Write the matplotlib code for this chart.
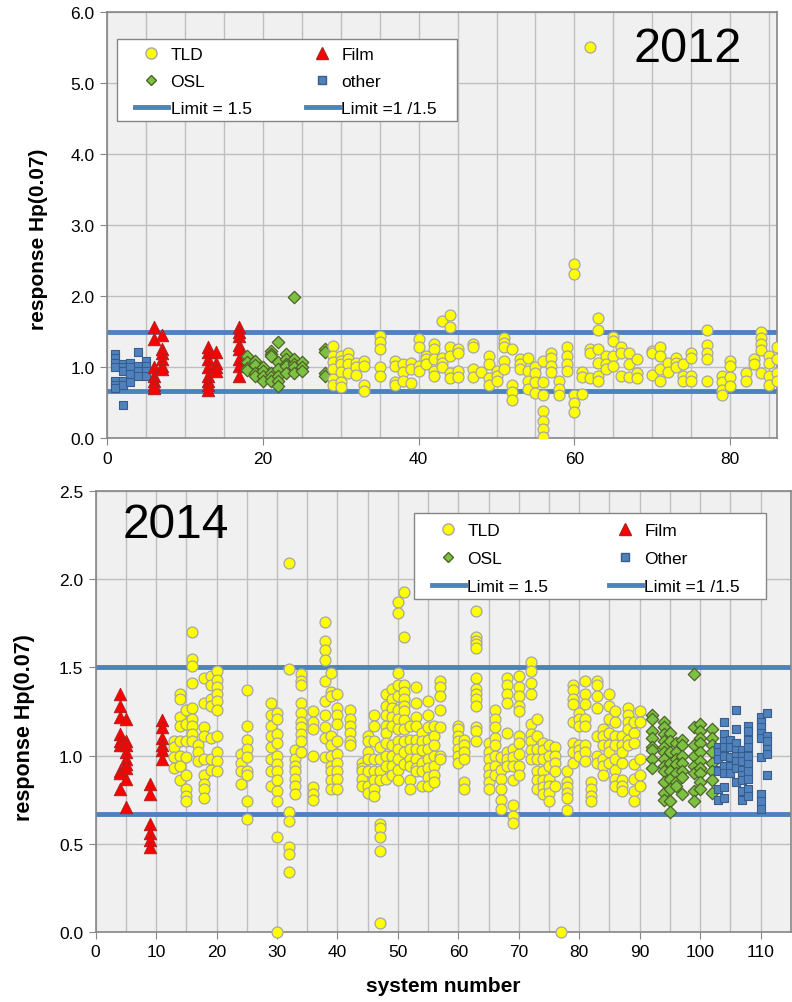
import matplotlib
matplotlib.use('Agg')
import matplotlib.pyplot as plt
from matplotlib.lines import Line2D
from matplotlib.patches import Rectangle
from matplotlib.ticker import MultipleLocator, FormatStrFormatter

plt.rcParams['font.family'] = ['Liberation Sans', 'DejaVu Sans']

# ---------------- 2012 ----------------
other12_sys = [1, 2, 3, 4, 5]
other12_val = [[1.18, 1.12, 1.05, 1.0, 0.81, 0.74, 0.70],
               [1.04, 1.0, 0.95, 0.81, 0.74, 0.46],
               [1.06, 1.0, 0.90, 0.79],
               [1.21, 1.02, 0.95, 0.87],
               [1.08, 1.02, 0.95, 0.88]]

film12_sys = [6, 7, 13, 14, 17]
film12_val = [[1.56, 1.40, 1.0, 0.88, 0.81, 0.74, 0.70],
              [1.45, 1.25, 1.20, 1.11, 1.02, 0.97],
              [1.28, 1.21, 1.11, 1.0, 0.88, 0.81, 0.74, 0.67],
              [1.21, 1.06, 1.0, 0.95],
              [1.56, 1.50, 1.43, 1.31, 1.25, 1.11, 1.02, 0.88]]

osl12_sys = [18, 19, 20, 21, 22, 23, 24, 25, 28]
osl12_val = [[1.15, 1.07, 0.98, 0.96],
             [1.08, 1.03, 0.92, 0.88],
             [1.0, 0.95, 0.88, 0.81],
             [1.23, 1.18, 1.15, 0.92, 0.86, 0.81],
             [1.35, 1.07, 0.97, 0.88, 0.81, 0.73],
             [1.18, 1.11, 1.04, 1.02, 0.91],
             [1.98, 1.11, 1.04, 1.0, 0.91],
             [1.07, 1.0, 0.95],
             [1.25, 1.21, 0.91, 0.88]]

tld12_sys = [29, 30, 31, 32, 33, 35, 37, 38, 39, 40, 41, 42, 43, 44, 45, 47, 48, 49,
             50, 51, 52, 53, 54, 55, 56, 57, 58, 59, 60, 61, 62, 63, 64, 65, 66, 67,
             68, 70, 71, 72, 73, 74, 75, 77, 79, 80, 82, 83, 84, 85, 86]
tld12_val = [[1.29, 1.16, 1.07, 0.97, 0.83, 0.74],
             [1.16, 1.08, 1.04, 0.93, 0.79, 0.72],
             [1.20, 1.11, 1.04, 0.91],
             [1.06, 1.0, 0.89],
             [1.08, 1.02, 0.74, 0.66],
             [1.44, 1.35, 1.26, 1.0, 0.88],
             [1.08, 1.02, 0.79, 0.74],
             [1.04, 0.93, 0.81],
             [1.06, 0.97, 0.77],
             [1.39, 1.28, 1.02, 0.95],
             [1.16, 1.11, 1.04],
             [1.33, 1.26, 1.11, 0.95, 0.88],
             [1.65, 1.13, 1.06, 1.0],
             [1.73, 1.57, 1.28, 1.16, 0.91, 0.84],
             [1.26, 1.20, 0.95, 0.86],
             [1.33, 1.28, 0.97, 0.86],
             [0.93],
             [1.16, 1.04, 0.84, 0.74],
             [0.95, 0.88, 0.80],
             [1.41, 1.34, 1.28, 1.08, 0.97],
             [1.26, 0.74, 0.65, 0.53],
             [1.11, 1.04, 0.97],
             [1.13, 0.95, 0.81, 0.69],
             [1.0, 0.91, 0.79, 0.63],
             [1.08, 0.79, 0.61, 0.38, 0.24, 0.12, 0.02],
             [1.20, 1.13, 1.02, 0.93],
             [0.81, 0.69, 0.60],
             [1.28, 1.16, 1.04, 0.95],
             [2.45, 2.31, 0.60, 0.49, 0.37],
             [0.93, 0.86, 0.62],
             [5.51, 1.26, 1.20, 0.84],
             [1.69, 1.52, 1.26, 1.06, 0.88, 0.81],
             [1.16, 1.04, 0.97],
             [1.42, 1.36, 1.16, 1.02],
             [1.28, 1.20, 0.88],
             [1.20, 1.04, 0.86],
             [1.11, 0.91, 0.84],
             [1.22, 1.20, 0.89],
             [1.28, 1.16, 0.97, 0.81],
             [1.06, 0.93],
             [1.13, 1.06, 1.0],
             [1.04, 0.88, 0.81],
             [1.20, 1.13, 0.88, 0.81],
             [1.52, 1.31, 1.20, 1.11, 0.81],
             [0.88, 0.79, 0.68, 0.60],
             [1.08, 1.02, 0.86, 0.73],
             [0.91, 0.81],
             [1.11, 1.04],
             [1.50, 1.41, 1.33, 1.24, 0.91],
             [1.16, 1.06, 0.88, 0.74],
             [1.28, 1.11, 0.91, 0.81]]

# ---------------- 2014 ----------------
film14_sys = [4, 5, 9, 11]
film14_val = [[1.35, 1.28, 1.22, 1.12, 1.08, 1.06, 0.91, 0.90, 0.81],
              [1.21, 1.08, 1.06, 1.02, 0.98, 0.95, 0.93, 0.87, 0.71],
              [0.84, 0.78, 0.61, 0.56, 0.52, 0.48],
              [1.20, 1.16, 1.10, 1.06, 1.03, 0.98]]

tld14_sys = [13, 14, 15, 16, 17, 18, 19, 20, 24, 25, 29, 30, 32, 33, 34, 36, 38, 39,
             40, 42, 44, 45, 46, 47, 48, 49, 50, 51, 52, 53, 54, 55, 56, 57, 60, 61,
             63, 65, 66, 67, 68, 69, 70, 72, 73, 74, 75, 76, 77, 78, 79, 80, 81, 82,
             83, 84, 85, 86, 87, 88, 89, 90]
tld14_val = [[1.08, 1.05, 0.99, 0.93],
             [1.35, 1.32, 1.22, 1.17, 1.08, 1.0, 0.94, 0.86],
             [1.26, 1.18, 1.08, 0.99, 0.89, 0.81, 0.77, 0.74],
             [1.70, 1.55, 1.51, 1.41, 1.27, 1.21, 1.17, 1.12, 1.08],
             [1.06, 1.02, 0.97],
             [1.44, 1.30, 1.16, 1.11, 0.98, 0.89, 0.84, 0.81, 0.76],
             [1.45, 1.40, 1.32, 1.28, 1.10, 0.98, 0.92],
             [1.48, 1.43, 1.39, 1.35, 1.31, 1.26, 1.11, 1.02, 0.97, 0.91],
             [1.01, 0.96, 0.91, 0.84],
             [1.37, 1.17, 1.09, 1.04, 0.99, 0.91, 0.89, 0.74, 0.64],
             [1.30, 1.23, 1.17, 1.11, 1.05, 0.98, 0.91, 0.83],
             [1.24, 1.21, 1.12, 1.07, 1.0, 0.95, 0.91, 0.86, 0.80, 0.74, 0.54, 0.0],
             [2.09, 1.49, 0.68, 0.63, 0.48, 0.44, 0.34],
             [1.03, 0.98, 0.94, 0.91, 0.87, 0.83, 0.78],
             [1.46, 1.42, 1.40, 1.30, 1.24, 1.19, 1.16, 1.12, 1.08, 1.02],
             [1.25, 1.19, 1.15, 1.0, 0.82, 0.78, 0.75],
             [1.76, 1.65, 1.60, 1.54, 1.42, 1.31, 1.23, 1.16, 1.10, 0.99],
             [1.47, 1.36, 1.34, 1.11, 1.06, 1.0, 0.94, 0.91, 0.86, 0.81],
             [1.35, 1.27, 1.23, 1.18, 1.08, 1.01, 0.96, 0.91, 0.87, 0.81],
             [1.26, 1.21, 1.17, 1.13, 1.08, 1.06],
             [0.96, 0.93, 0.91, 0.87, 0.83],
             [1.11, 1.08, 1.02, 0.98, 0.91, 0.83, 0.79],
             [1.23, 1.17, 1.08, 0.98, 0.91, 0.86, 0.81, 0.77],
             [1.05, 0.98, 0.91, 0.86, 0.61, 0.59, 0.54, 0.46, 0.05],
             [1.35, 1.28, 1.23, 1.17, 1.13, 1.07, 1.0, 0.94, 0.87],
             [1.38, 1.32, 1.27, 1.22, 1.17, 1.06, 1.0, 0.94, 0.89],
             [1.87, 1.81, 1.47, 1.40, 1.34, 1.26, 1.21, 1.15, 1.08, 1.04, 0.98, 0.92, 0.86],
             [1.93, 1.67, 1.40, 1.36, 1.32, 1.28, 1.25, 1.20, 1.15, 1.08, 1.02, 0.95],
             [1.17, 1.09, 1.04, 0.98, 0.94, 0.86, 0.81],
             [1.39, 1.30, 1.22, 1.17, 1.09, 1.04, 0.98, 0.93, 0.91],
             [1.13, 1.08, 1.03, 0.96, 0.91, 0.83],
             [1.31, 1.23, 1.16, 1.09, 1.04, 0.98, 0.93, 0.88, 0.83],
             [1.17, 1.11, 1.06, 1.0, 0.94, 0.89, 0.85],
             [1.42, 1.39, 1.34, 1.26, 1.16, 1.0, 0.98],
             [1.17, 1.15, 1.11, 1.08, 1.04, 1.0, 0.96],
             [1.09, 1.06, 1.02, 0.98, 0.85, 0.81],
             [1.82, 1.67, 1.65, 1.63, 1.61, 1.44, 1.38, 1.35, 1.32, 1.28, 1.16, 1.14, 1.08],
             [1.07, 1.02, 0.98, 0.93, 0.89, 0.85, 0.81],
             [1.26, 1.21, 1.16, 1.10, 1.06, 1.0, 0.94, 0.89],
             [0.99, 0.92, 0.87, 0.81, 0.75, 0.70],
             [1.44, 1.40, 1.35, 1.30, 1.13, 1.02, 0.98, 0.94],
             [1.04, 0.99, 0.94, 0.86, 0.72, 0.66, 0.62],
             [1.45, 1.39, 1.34, 1.28, 1.25, 1.11, 1.07, 1.01, 0.94, 0.89],
             [1.53, 1.48, 1.41, 1.35, 1.18, 1.12, 1.08, 1.03, 0.98],
             [1.21, 1.11, 1.04, 0.98, 0.91, 0.86, 0.81],
             [1.07, 1.03, 0.98, 0.91, 0.86, 0.82, 0.78],
             [1.06, 1.0, 0.94, 0.87, 0.83, 0.79, 0.74],
             [1.05, 1.0, 0.96, 0.91, 0.83],
             [0.0],
             [0.91, 0.85, 0.82, 0.79, 0.76, 0.69],
             [1.40, 1.37, 1.32, 1.29, 1.19, 1.07, 1.02, 0.96],
             [1.24, 1.21, 1.17, 1.06, 1.03, 1.0],
             [1.42, 1.35, 1.29, 1.21, 1.17, 1.06, 1.02, 0.97],
             [0.85, 0.81, 0.77, 0.74],
             [1.42, 1.40, 1.34, 1.27, 1.11, 1.0, 0.96],
             [1.15, 1.11, 1.06, 0.98, 0.94, 0.89],
             [1.35, 1.28, 1.21, 1.13, 1.06, 1.02, 0.96],
             [1.25, 1.19, 1.11, 1.06, 0.98, 0.92, 0.87, 0.83],
             [1.11, 1.06, 1.02, 0.96, 0.86, 0.83, 0.80],
             [1.27, 1.23, 1.19, 1.15, 1.09, 1.06],
             [1.19, 1.13, 1.07, 0.95, 0.87, 0.80, 0.74],
             [1.25, 1.19, 0.98, 0.89, 0.83]]

osl14_sys = [92, 94, 95, 96, 97, 99, 100, 102]
osl14_val = [[1.23, 1.21, 1.14, 1.10, 1.05, 1.03, 0.98, 0.93],
             [1.19, 1.16, 1.12, 1.08, 1.05, 1.02, 0.98, 0.94, 0.91, 0.85, 0.79, 0.75],
             [1.13, 1.08, 1.02, 0.96, 0.91, 0.87, 0.81, 0.74, 0.68],
             [1.07, 1.02, 0.98, 0.95, 0.90, 0.85, 0.83],
             [1.09, 1.06, 1.0, 0.96, 0.91, 0.88, 0.78],
             [1.46, 1.16, 1.06, 1.0, 0.94, 0.90, 0.80, 0.74],
             [1.18, 1.14, 1.10, 1.07, 1.02, 0.97, 0.93, 0.90, 0.85, 0.81],
             [1.15, 1.10, 1.06, 1.02, 0.96, 0.91, 0.86, 0.79]]

other14_sys = [103, 104, 105, 106, 107, 108, 110, 111]
other14_val = [[1.05, 1.02, 0.98, 0.92, 0.91, 0.81, 0.75],
               [1.19, 1.12, 1.08, 1.05, 1.0, 0.94, 0.90, 0.82, 0.76],
               [1.09, 1.05, 0.99, 0.94, 0.90],
               [1.26, 1.15, 1.07, 1.03, 1.0, 0.97, 0.93, 0.85],
               [1.03, 1.0, 0.97, 0.92, 0.89, 0.86, 0.80, 0.75],
               [1.17, 1.14, 1.09, 1.05, 1.0, 0.95, 0.91, 0.87, 0.81, 0.77],
               [1.22, 1.19, 1.16, 1.13, 1.10, 0.99, 0.78, 0.74, 0.70],
               [1.24, 1.11, 1.08, 1.04, 1.01, 0.89]]

limit_hi = 1.5
limit_lo = 1 / 1.5

# styles
sty_tld = dict(marker='o', s=62, facecolor='#FFFF00', edgecolor='#A6A6A6', linewidths=0.9)
sty_film = dict(marker='^', s=80, facecolor='#FF0000', edgecolor='#B02020', linewidths=0.7)
sty_osl = dict(marker='D', s=40, facecolor='#7CC242', edgecolor='#4F6228', linewidths=0.9)
sty_oth = dict(marker='s', s=32, facecolor='#4F81BD', edgecolor='#385D8A', linewidths=0.8)
line_col = '#4F81BD'


def flat(sys_list, val_list):
    xs, ys = [], []
    for s, vals in zip(sys_list, val_list):
        for v in vals:
            xs.append(s)
            ys.append(v)
    return xs, ys


def style_axes(ax):
    ax.set_facecolor('#F0F0F0')
    ax.grid(True, which='both', color='#BFBFBF', linewidth=1.0, zorder=0)
    ax.set_axisbelow(True)
    for sp in ax.spines.values():
        sp.set_color('#868686')
        sp.set_linewidth(1.2)
    ax.tick_params(which='major', direction='out', length=5, color='#868686',
                   labelsize=12.5, pad=4)
    ax.tick_params(which='minor', length=0)
    ax.yaxis.set_major_formatter(FormatStrFormatter('%.1f'))


def legend_handles(other_label):
    h = [Line2D([], [], linestyle='none', marker='o', markersize=8, markerfacecolor='#FFFF00',
                markeredgecolor='#A6A6A6', label='TLD'),
         Line2D([], [], linestyle='none', marker='D', markersize=5.5, markerfacecolor='#7CC242',
                markeredgecolor='#4F6228', label='OSL'),
         Line2D([], [], color=line_col, linewidth=3.5, label='Limit = 1.5'),
         Line2D([], [], linestyle='none', marker='^', markersize=9, markerfacecolor='#FF0000',
                markeredgecolor='#B02020', label='Film'),
         Line2D([], [], linestyle='none', marker='s', markersize=5.5, markerfacecolor='#4F81BD',
                markeredgecolor='#385D8A', label=other_label),
         Line2D([], [], color=line_col, linewidth=3.5, label='Limit =1 /1.5')]
    return h


def boxed_legend(ax, other_label, box, anchor, spacing):
    # white frame drawn separately so the text can sit inside with Excel-like padding
    ax.add_patch(Rectangle(box[:2], box[2], box[3], transform=ax.transAxes,
                           facecolor='white', edgecolor='#868686', linewidth=1.0,
                           zorder=4.5, clip_on=False))
    leg = ax.legend(handles=legend_handles(other_label), ncol=2, loc='upper left',
                    bbox_to_anchor=anchor, mode='expand', fontsize=12.5,
                    frameon=False, handlelength=1.9, handletextpad=0.15,
                    borderpad=0, borderaxespad=0, labelspacing=spacing,
                    columnspacing=0.5)
    leg.set_zorder(6)
    return leg


fig = plt.figure(figsize=(7.92, 10.03), dpi=100)

# ---------- top panel 2012 ----------
ax1 = fig.add_axes([0.1351, 0.5623, 0.8459, 0.4247])
style_axes(ax1)
ax1.axhline(limit_hi, color=line_col, linewidth=3.5, zorder=2)
ax1.axhline(limit_lo, color=line_col, linewidth=3.5, zorder=2)
x, y = flat(other12_sys, other12_val)
ax1.scatter(x, y, zorder=3, **sty_oth)
x, y = flat(film12_sys, film12_val)
ax1.scatter(x, y, zorder=3, **sty_film)
x, y = flat(osl12_sys, osl12_val)
ax1.scatter(x, y, zorder=3, **sty_osl)
x, y = flat(tld12_sys, tld12_val)
ax1.scatter(x, y, zorder=3, clip_on=True, **sty_tld)
ax1.set_xlim(0, 86)
ax1.set_ylim(0, 6)
ax1.xaxis.set_major_locator(MultipleLocator(20))
ax1.xaxis.set_minor_locator(MultipleLocator(5))
ax1.yaxis.set_major_locator(MultipleLocator(1))
ax1.text(0.948, 0.968, '2012', transform=ax1.transAxes, fontsize=35,
         ha='right', va='top')
boxed_legend(ax1, 'other', (0.0149, 0.744, 0.5075, 0.1925),
             (0.0418, 0.9175, 0.4507, 0.0), 0.68)

# ---------- bottom panel 2014 ----------
ax2 = fig.add_axes([0.1208, 0.0698, 0.8776, 0.4397])
style_axes(ax2)
ax2.axhline(limit_hi, color=line_col, linewidth=3.5, zorder=2)
ax2.axhline(limit_lo, color=line_col, linewidth=3.5, zorder=2)
x, y = flat(film14_sys, film14_val)
ax2.scatter(x, y, zorder=3, **sty_film)
x, y = flat(tld14_sys, tld14_val)
ax2.scatter(x, y, zorder=3, clip_on=False, **sty_tld)
x, y = flat(osl14_sys, osl14_val)
ax2.scatter(x, y, zorder=3, **sty_osl)
x, y = flat(other14_sys, other14_val)
ax2.scatter(x, y, zorder=3, **sty_oth)
ax2.set_xlim(0, 115)
ax2.set_ylim(0, 2.5)
ax2.xaxis.set_major_locator(MultipleLocator(10))
ax2.xaxis.set_minor_locator(MultipleLocator(5))
ax2.yaxis.set_major_locator(MultipleLocator(0.5))
ax2.text(0.039, 0.975, '2014', transform=ax2.transAxes, fontsize=34.5,
         ha='left', va='top')
boxed_legend(ax2, 'Other', (0.458, 0.755, 0.5065, 0.1943),
             (0.4835, 0.927, 0.4436, 0.0), 0.74)
ax2.set_xlabel('system number', fontsize=15, fontweight='bold', labelpad=12)

fig.text(0.048, 0.761, 'response Hp(0.07)', rotation=90, ha='center', va='center',
         fontsize=15, fontweight='bold')
fig.text(0.031, 0.275, 'response Hp(0.07)', rotation=90, ha='center', va='center',
         fontsize=15.5, fontweight='bold')

fig.savefig('out.png', dpi=100)
